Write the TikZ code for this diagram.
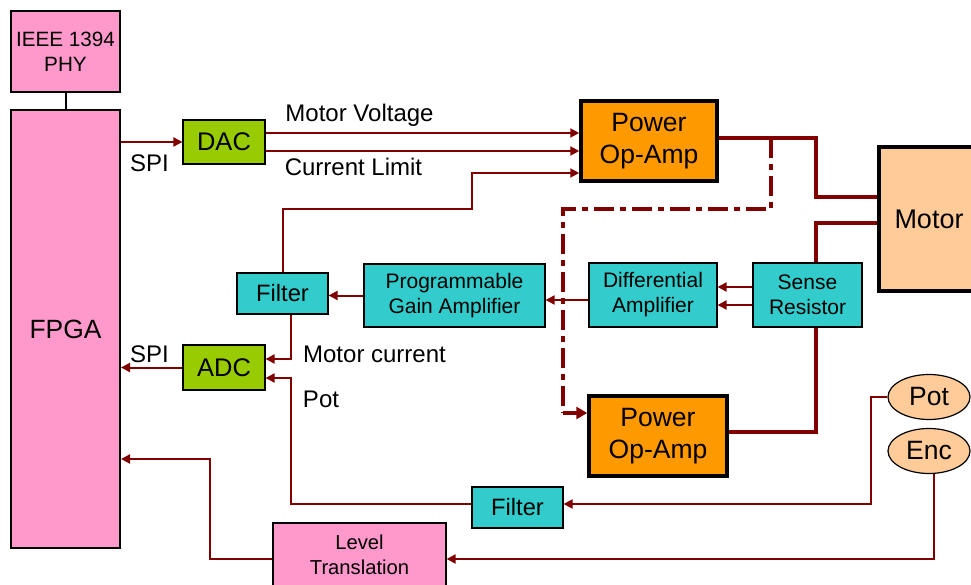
\documentclass[tikz,border=0pt]{standalone}
\usepackage{fontspec}
\setmainfont{Liberation Sans}
\usetikzlibrary{arrows.meta,shapes.geometric}
\definecolor{wirec}{HTML}{800000}
\definecolor{pinkc}{HTML}{FF99CC}
\definecolor{greenc}{HTML}{99CC00}
\definecolor{tealc}{HTML}{33CCCC}
\definecolor{orangec}{HTML}{FF9900}
\definecolor{peachc}{HTML}{FFCC99}
\begin{document}
\begin{tikzpicture}[x=1pt,y=-1pt,
  box/.style={draw=black,line width=1.2pt,inner sep=0pt,align=center,text=black},
  pinkbox/.style={box,fill=pinkc,line width=2pt},
  greenbox/.style={box,fill=greenc,font=\fontsize{25.5}{30}\selectfont},
  tealbox/.style={box,fill=tealc,font=\fontsize{21}{25}\selectfont},
  powerbox/.style={box,fill=orangec,line width=3.5pt,font=\fontsize{26.5}{32}\selectfont},
  ovalbox/.style={draw=black,line width=1.2pt,fill=peachc,ellipse,inner sep=0pt,font=\fontsize{26.5}{30}\selectfont},
  wire/.style={draw=wirec,line width=2pt},
  arr/.style={wire,-{Triangle[length=9pt,width=9pt]}},
  thickwire/.style={draw=wirec,line width=4pt},
  dashdotwire/.style={draw=wirec,line width=4pt,dash pattern=on 20pt off 6pt on 6pt off 6pt},
  lbl/.style={anchor=base,inner sep=0pt,font=\fontsize{24}{28}\selectfont}
]
\useasboundingbox (0,0) rectangle (971,585);
\clip (0,0) rectangle (971,585);

% nodes
\node[pinkbox,minimum width=109pt,minimum height=81pt,font=\fontsize{20.7}{25}\selectfont] (ieee) at (65.5,51.5) {IEEE 1394\\PHY};
\node[pinkbox,minimum width=109pt,minimum height=438pt,font=\fontsize{26.4}{30}\selectfont] (fpga) at (65.5,329) {FPGA};
\node[greenbox,minimum width=82pt,minimum height=44pt] (dac) at (224,142) {DAC};
\node[greenbox,minimum width=82pt,minimum height=45pt] (adc) at (224,367.5) {ADC};
\node[powerbox,minimum width=136pt,minimum height=80pt] (poa1) at (649,141) {Power\\Op-Amp};
\node[powerbox,minimum width=138pt,minimum height=80pt] (poa2) at (658,436) {Power\\Op-Amp};
\node[box,fill=peachc,line width=3.5pt,minimum width=100pt,minimum height=144pt,font=\fontsize{27}{32}\selectfont] (motor) at (929,219) {Motor};
\node[tealbox,minimum width=109pt,minimum height=64pt] (sense) at (807.5,295) {Sense\\Resistor};
\node[tealbox,minimum width=128pt,minimum height=64pt] (diff) at (653,295) {Differential\\Amplifier};
\node[tealbox,minimum width=181pt,minimum height=63pt] (pga) at (454.5,295.5) {Programmable\\Gain Amplifier};
\node[tealbox,minimum width=91pt,minimum height=41pt,font=\fontsize{23.7}{28}\selectfont] (filt1) at (282.5,293.5) {Filter};
\node[tealbox,minimum width=91pt,minimum height=41pt,font=\fontsize{23.7}{28}\selectfont] (filt2) at (517.5,507.5) {Filter};
\node[ovalbox,minimum width=82pt,minimum height=45pt] (pot) at (929,397) {Pot};
\node[ovalbox,minimum width=82pt,minimum height=45pt] (enc) at (929,451) {Enc};
\node[pinkbox,line width=1.2pt,minimum width=173pt,minimum height=64pt,font=\fontsize{20.2}{24.5}\selectfont] (lvl) at (359.5,555) {Level\\Translation};

% labels
\node[lbl] (lspi1) at (149.5,172) {SPI};
\node[lbl] (lspi2) at (149.5,362) {SPI};
\node[lbl] (lmv) at (359.5,122) {Motor Voltage};
\node[lbl] (lcl) at (353.5,176) {Current Limit};
\node[lbl] (lmc) at (374.5,362) {Motor current};
\node[lbl] (lpot) at (321,407) {Pot};

% connectors
\draw[line width=2pt,black] (ieee.south) -- (fpga.north);
\draw[arr] (dac.west -| fpga.east) -- (dac.west);

\coordinate (mv) at ([yshift=9pt]dac.east);
\coordinate (cl) at ([yshift=-9pt]dac.east);
\coordinate (fb) at ([yshift=-32pt]poa1.west);
\draw[arr] (mv) -- (mv -| poa1.west);
\draw[arr] (cl) -- (cl -| poa1.west);
\draw[arr] (filt1.north) |- (472,209) |- (fb);

% power op-amp 1 to motor
\coordinate (p1o) at ([yshift=3pt]poa1.east);
\coordinate (m1) at ([yshift=22pt]motor.west);
\coordinate (m2) at ([yshift=-4pt]motor.west);
\draw[thickwire] (p1o) -- (816,138) |- (m1);
\coordinate (ddstart) at (771,138);
\coordinate (p2in) at ([yshift=23pt]poa2.west);
\draw[dashdotwire] (ddstart) |- (563,209) -- (563,413);
\draw[thickwire,-{Triangle[length=11pt,width=12pt]}] (563,413) -- (p2in);

% motor return via sense resistor
\draw[thickwire] (m2) -| ([xshift=8.5pt]sense.north);
\coordinate (p2o) at ([yshift=4pt]poa2.east);
\draw[thickwire] ([xshift=8.5pt]sense.south) |- (p2o);

% sense chain
\draw[arr] ([yshift=8pt]sense.west) -- ([yshift=8pt]diff.east);
\draw[arr] ([yshift=-10pt]sense.west) -- ([yshift=-10pt]diff.east);
\coordinate (dw) at ([yshift=-5pt]diff.west);
\draw[arr] (dw) -- (dw -| pga.east);
\draw[arr] (pga.west) -- (pga.west -| filt1.east);
\draw[arr] ([xshift=8.5pt]filt1.south) |- ([yshift=8.5pt]adc.east);
\draw[arr] (adc.west) -- (adc.west -| fpga.east);

% pot and encoder
\coordinate (f2w) at ([yshift=3.5pt]filt2.west);
\coordinate (f2e) at ([yshift=3.5pt]filt2.east);
\draw[arr] (f2w) -| (291,378) -- ([yshift=-10.5pt]adc.east);
\draw[arr] (pot.west) -| (871,504) -- (f2e);
\draw[arr] ([xshift=5pt]enc.south) |- ([yshift=-4pt]lvl.east);
\coordinate (fin) at ([yshift=-130pt]fpga.east);
\draw[arr] ([yshift=-4pt]lvl.west) -| (210,459) -- (fin);
\end{tikzpicture}
\end{document}
